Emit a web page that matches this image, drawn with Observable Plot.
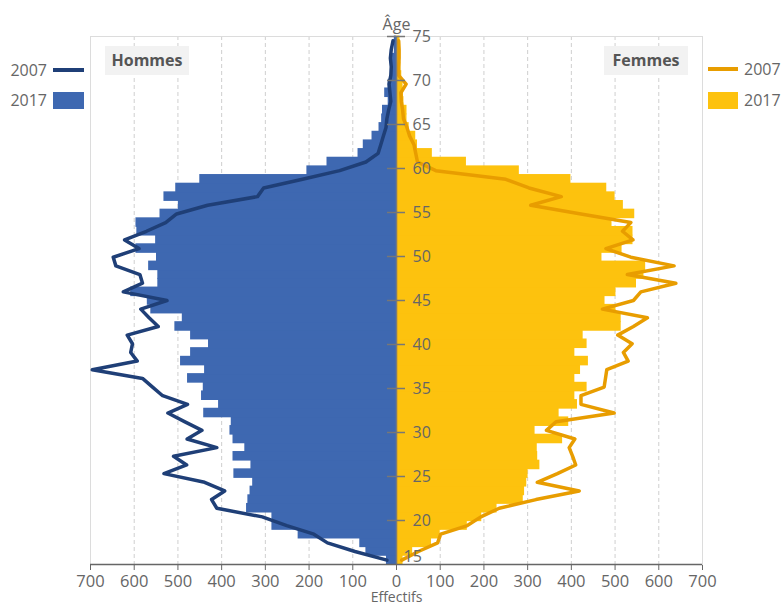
<!DOCTYPE html>
<html><head><meta charset="utf-8">
<script src="https://cdn.jsdelivr.net/npm/d3@7"></script>
<script src="https://cdn.jsdelivr.net/npm/@observablehq/plot@0.6"></script>
<style>
body{margin:0;background:#fff;font-family:"Open Sans",sans-serif;}
#wrap{position:relative;width:783px;height:609px;overflow:hidden;}
#wrap svg{position:absolute;left:0;top:0;}
.lg{position:absolute;font-size:16px;line-height:20px;color:#666;}
.sw{position:absolute;}
.box{position:absolute;top:46px;width:84px;height:29px;line-height:29px;background:#f2f2f2;color:#555;font-weight:bold;font-size:16px;text-align:center;}
</style></head><body><div id="wrap"></div>
<script>
const ages = [15,16,17,18,19,20,21,22,23,24,25,26,27,28,29,30,31,32,33,34,35,36,37,38,39,40,41,42,43,44,45,46,47,48,49,50,51,52,53,54,55,56,57,58,59,60,61,62,63,64,65,66,67,68,69,70,71,72,73,74,75];
const hommes2017 = [23,70,84,225,285,285,343,340,335,329,372,333,374,347,374,381,378,441,407,446,442,478,439,494,471,430,471,507,490,562,570,608,546,546,567,549,596,551,594,596,541,499,532,505,450,205,159,88,76,56,40,34,32,19,27,19,12,11,10,5,5];
const femmes2017 = [15,37,80,100,162,195,230,290,293,298,301,328,323,322,380,317,394,372,414,408,436,408,421,439,408,436,427,514,514,502,477,502,549,566,570,470,516,541,541,493,545,519,500,481,399,281,160,82,48,44,29,24,24,17,16,15,12,10,8,8,8];
const hommes2007 = [22,95,158,189,251,307,411,423,393,439,532,480,510,411,479,445,485,523,478,535,558,581,696,593,608,604,616,545,566,585,525,625,581,587,642,648,589,622,572,528,503,432,318,304,215,130,70,42,36,30,24,22,18,13,15,17,13,12,14,12,8];
const femmes2007 = [12,50,94,101,162,193,235,319,418,322,368,410,403,395,408,343,365,498,422,422,475,478,481,530,519,539,506,542,574,471,542,559,639,528,635,536,479,541,517,536,422,307,377,303,250,90,48,44,40,30,24,16,14,11,10,22,5,5,6,6,5];
const xTicks = [-700,-600,-500,-400,-300,-200,-100,0,100,200,300,400,500,600,700];
const gridTicks = [-600,-500,-400,-300,-200,-100,100,200,300,400,500,600];
const ageTicks = [15,20,25,30,35,40,45,50,55,60,65,70,75];

const cMenBar = "#3e68b1", cMenLine = "#1f3f77", cWomBar = "#fdc20e", cWomLine = "#e89d00";

// bars and line sit on 61 equal bands spanning the age axis
const nB = ages.length, span = 75 - 15;
const bandTop = a => 75 - (75 - a) * span / nB;
const bandBot = a => 75 - (76 - a) * span / nB;
const bandMid = a => (bandTop(a) + bandBot(a)) / 2;

const rows = ages.map((a, i) => ({age: a, h17: hommes2017[i], f17: femmes2017[i], h07: hommes2007[i], f07: femmes2007[i]}));
const lowTick = ageTicks.filter(t => t === 15);
const otherTicks = ageTicks.filter(t => t !== 15);

const chart = Plot.plot({
  width: 783, height: 609,
  marginLeft: 90, marginRight: 81, marginTop: 36, marginBottom: 45,
  style: {fontFamily: "Open Sans, sans-serif", fontSize: "16.5px", color: "#666", background: "transparent", overflow: "visible"},
  x: {domain: [-700, 700], ticks: xTicks, tickFormat: d => Math.abs(d), tickSize: 6, tickPadding: 5, label: null},
  y: {domain: [15, 75], axis: null},
  marks: [
    Plot.ruleX(gridTicks, {x: d => d, stroke: "#cfcfcf", strokeDasharray: "4,3"}),
    Plot.frame({stroke: "#dcdcdc"}),
    Plot.rectX(rows, {x1: 0, x2: d => -d.h17, y1: d => bandBot(d.age), y2: d => bandTop(d.age), fill: cMenBar, insetTop: -0.45, insetBottom: -0.45}),
    Plot.rectX(rows, {x1: 0, x2: d => d.f17, y1: d => bandBot(d.age), y2: d => bandTop(d.age), fill: cWomBar, insetTop: -0.45, insetBottom: -0.45}),
    Plot.line(rows, {x: d => -d.h07, y: d => bandMid(d.age), stroke: cMenLine, strokeWidth: 3.5, strokeLinejoin: "round"}),
    Plot.line(rows, {x: d => d.f07, y: d => bandMid(d.age), stroke: cWomLine, strokeWidth: 3.5, strokeLinejoin: "round"}),
    Plot.ruleX([0], {stroke: "#7a7a7a", strokeWidth: 1.5}),
    Plot.ruleY([15], {stroke: "#666", strokeWidth: 1.5}),
    Plot.ruleY(otherTicks, {y: d => d, x1: 0, x2: 0, insetLeft: -9, insetRight: -9, stroke: "#777", strokeWidth: 1.5}),
    Plot.text(otherTicks, {y: d => d, x: 0, text: d => String(d), textAnchor: "start", dx: 16, fill: "#666", fontSize: 16}),
    Plot.text(lowTick, {y: d => d, x: 0, text: d => String(d), textAnchor: "start", dx: 7, dy: -8, fill: "#666", fontSize: 16}),
    Plot.text(["Âge"], {x: 0, frameAnchor: "top", dy: -18, text: d => d, fill: "#666", fontSize: 16}),
    Plot.text(["Effectifs"], {x: 0, frameAnchor: "bottom", dy: 37, text: d => d, fill: "#666", fontSize: 14})
  ]
});
const wrap = document.getElementById("wrap");
wrap.appendChild(chart);

const legendItems = [
  {cls: "lg", style: "left:0;width:47px;text-align:right;top:60px;", text: "2007"},
  {cls: "sw", style: `left:53px;width:31px;top:68px;height:4px;background:${cMenLine};`},
  {cls: "lg", style: "left:0;width:47px;text-align:right;top:90px;", text: "2017"},
  {cls: "sw", style: `left:53px;width:31px;top:92px;height:17px;background:${cMenBar};`},
  {cls: "sw", style: `left:708px;width:30px;top:67px;height:4px;background:${cWomLine};`},
  {cls: "lg", style: "left:744px;top:59px;", text: "2007"},
  {cls: "sw", style: `left:708px;width:30px;top:92px;height:17px;background:${cWomBar};`},
  {cls: "lg", style: "left:744px;top:90px;", text: "2017"},
  {cls: "box", style: "left:105px;", text: "Hommes"},
  {cls: "box", style: "left:604px;", text: "Femmes"}
];
for (const it of legendItems) {
  const el = document.createElement("div");
  el.className = it.cls;
  el.setAttribute("style", it.style);
  if (it.text) el.textContent = it.text;
  wrap.appendChild(el);
}
</script>
</body></html>
